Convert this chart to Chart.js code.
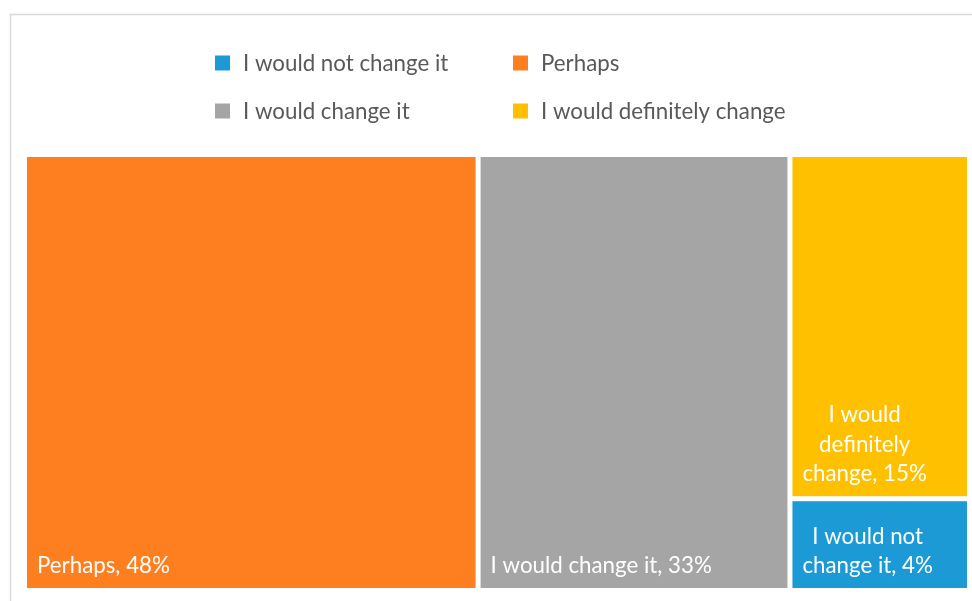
<!DOCTYPE html>
<html>
<head>
<meta charset="utf-8">
<script src="https://cdn.jsdelivr.net/npm/chart.js@4.4.1/dist/chart.umd.min.js"></script>
<style>
  html, body { margin: 0; padding: 0; background: #ffffff; }
  #wrap { position: relative; width: 972px; height: 601px; }
</style>
</head>
<body>
<div id="wrap"><canvas id="chart" width="972" height="601"></canvas></div>
<script>
// Answer categories, in legend order
const categories = ['I would not change it', 'Perhaps', 'I would change it', 'I would definitely change'];
// Share of respondents (%) for each category
const shares = [4, 48, 33, 15];
// Tile labels shown inside each rectangle
const tileLabels = ['I would not change it, 4%', 'Perhaps, 48%', 'I would change it, 33%', 'I would definitely change, 15%'];
const colors = ['#1b9ad6', '#fe7f20', '#a5a5a5', '#ffc000'];

const FONT = 'Lato, "Open Sans", sans-serif';
const FONT_SIZE = 22.3;

// Squarified treemap layout in unit space (0..1 on both axes); aspect = width/height in pixels
function squarify(items, aspect) {
  const rects = [];
  let x = 0, y = 0, w = 1, h = 1;
  const total = items.reduce((s, it) => s + it.value, 0);
  let rest = items.slice();
  const scaleArea = aspect / total;
  function worst(row, side) {
    const s = row.reduce((a, r) => a + r.value * scaleArea, 0);
    let m = 0;
    row.forEach(r => {
      const a = r.value * scaleArea;
      m = Math.max(m, (side * side * a) / (s * s), (s * s) / (side * side * a));
    });
    return m;
  }
  while (rest.length) {
    const W = w * aspect, H = h;
    const side = Math.min(W, H);
    let row = [rest[0]];
    let i = 1;
    while (i < rest.length && worst(row.concat([rest[i]]), side) <= worst(row, side)) {
      row.push(rest[i]); i++;
    }
    rest = rest.slice(i);
    const rowArea = row.reduce((a, r) => a + r.value * scaleArea, 0);
    if (W >= H) {
      // column on the left, stacked top to bottom
      const colW = rowArea / H;
      let cy = y;
      row.forEach(r => {
        const rh = (r.value * scaleArea) / colW;
        rects.push({ item: r, x0: x, x1: x + colW / aspect, y0: cy, y1: cy + rh });
        cy += rh;
      });
      x += colW / aspect; w -= colW / aspect;
    } else {
      // row across the top, left to right
      const rowH = rowArea / W;
      let cx = x;
      row.forEach(r => {
        const rw = (r.value * scaleArea) / rowH / aspect;
        rects.push({ item: r, x0: cx, x1: cx + rw, y0: y, y1: y + rowH });
        cx += rw;
      });
      y += rowH; h -= rowH;
    }
  }
  return rects;
}

function wrapText(ctx, text, maxW) {
  const words = text.split(' ');
  const lines = [];
  let cur = '';
  words.forEach(wd => {
    const t = cur ? cur + ' ' + wd : wd;
    if (ctx.measureText(t).width <= maxW || !cur) cur = t;
    else { lines.push(cur); cur = wd; }
  });
  if (cur) lines.push(cur);
  return lines;
}

const treemapPlugin = {
  id: 'treemapTiles',
  beforeDraw(chart) {
    const ctx = chart.ctx;
    ctx.save();
    ctx.strokeStyle = '#d9d9d9';
    ctx.lineWidth = 1.5;
    ctx.beginPath();
    ctx.moveTo(10.5, 601);
    ctx.lineTo(10.5, 14.5);
    ctx.lineTo(972, 14.5);
    ctx.stroke();
    ctx.restore();
  },
  afterDatasetsDraw(chart) {
    const ctx = chart.ctx;
    const xs = chart.scales.x, ys = chart.scales.y;
    const area = chart.chartArea;
    const ds = chart.data.datasets[0];
    const items = ds.data.map((v, i) => ({ value: v, index: i }))
      .sort((a, b) => b.value - a.value);
    const rects = squarify(items, (area.right - area.left) / (area.bottom - area.top));
    const gap = 2.5;
    ctx.save();
    rects.forEach(r => {
      const px0 = xs.getPixelForValue(r.x0 * 100) + gap;
      const px1 = xs.getPixelForValue(r.x1 * 100) - gap;
      const py0 = ys.getPixelForValue(100 - r.y0 * 100) + gap;
      const py1 = ys.getPixelForValue(100 - r.y1 * 100) - gap;
      const i = r.item.index;
      ctx.fillStyle = ds.backgroundColor[i];
      ctx.fillRect(px0, py0, px1 - px0, py1 - py0);

      // label: block anchored at bottom-left, lines centred within the block
      ctx.font = FONT_SIZE + 'px ' + FONT;
      ctx.fillStyle = '#ffffff';
      ctx.textBaseline = 'middle';
      const pad = 10;
      const lines = wrapText(ctx, tileLabels[i], px1 - px0 - 2 * pad);
      const blockW = Math.max(...lines.map(l => ctx.measureText(l).width));
      const lh = 29.5;
      ctx.textAlign = 'center';
      lines.forEach((l, k) => {
        const cy = py1 - 22 - (lines.length - 1 - k) * lh;
        ctx.fillText(l, px0 + pad + blockW / 2, cy);
      });
    });
    ctx.restore();

    // legend in two aligned columns
    ctx.save();
    ctx.font = FONT_SIZE + 'px ' + FONT;
    ctx.textBaseline = 'middle';
    ctx.textAlign = 'left';
    const colX = [215, 513];
    const rowY = [63, 111];
    chart.data.labels.forEach((lab, i) => {
      const cx = colX[i % 2], cy = rowY[Math.floor(i / 2)];
      ctx.fillStyle = ds.backgroundColor[i];
      ctx.fillRect(cx, cy - 7.5, 15, 15);
      ctx.fillStyle = '#595959';
      ctx.fillText(lab, cx + 28, cy + 1);
    });
    ctx.restore();
  }
};

new Chart(document.getElementById('chart'), {
  type: 'scatter',
  data: {
    labels: categories,
    datasets: [{
      label: 'Share',
      data: shares,
      backgroundColor: colors,
      pointRadius: 0,
      pointHoverRadius: 0,
      showLine: false
    }]
  },
  options: {
    responsive: false,
    animation: false,
    events: [],
    layout: { padding: { left: 24.5, right: 2.5, top: 154.5, bottom: 10.5 } },
    parsing: false,
    scales: {
      x: { type: 'linear', min: 0, max: 100, display: false },
      y: { type: 'linear', min: 0, max: 100, display: false }
    },
    plugins: {
      legend: { display: false },
      tooltip: { enabled: false }
    }
  },
  plugins: [treemapPlugin]
});
</script>
</body>
</html>
